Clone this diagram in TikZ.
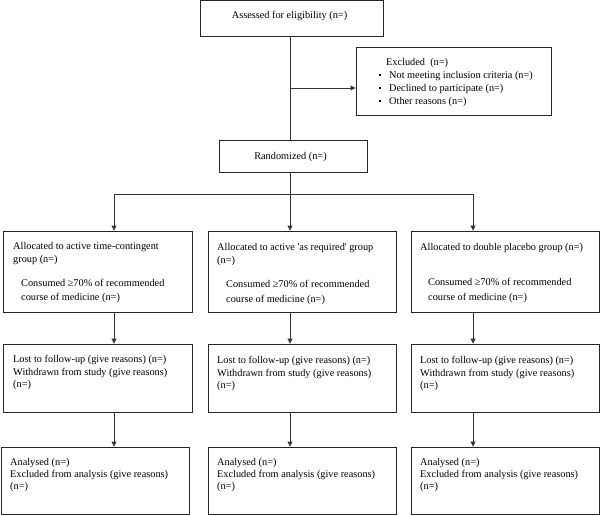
\documentclass[tikz,border=0pt]{standalone}
\usepackage{fontspec}
\setmainfont{Liberation Serif}
\usetikzlibrary{arrows.meta,fit}
\newcommand\bulsq{\makebox[10.5pt][l]{\rule[2.3pt]{2pt}{2pt}}}
\begin{document}
\begin{tikzpicture}[x=1pt,y=-1pt,
  box/.style={draw=black!85,line width=0.9pt,inner sep=0pt},
  con/.style={draw=black!80,line width=0.9pt},
  arr/.style={con,-{Triangle[length=5pt,width=5pt]}},
  txt/.style={anchor=base west,inner sep=0pt,align=left,font=\fontsize{10.3}{#1}\selectfont},
  txt/.default=12.5]
\useasboundingbox (0,0) rectangle (600,515);
% boxes
\node[box,fit={(200,0.5) (383,36)}] (top) {};
\node[box,fit={(356,47) (551,115)}] (excl) {};
\node[box,fit={(219,140) (367,172)}] (rand) {};
\node[box,fit={(3,231) (192,312)}] (a1) {};
\node[box,fit={(208,231) (396,312)}] (a2) {};
\node[box,fit={(411,231) (599,312)}] (a3) {};
\node[box,fit={(3,344) (192,412)}] (f1) {};
\node[box,fit={(208,344) (396,412)}] (f2) {};
\node[box,fit={(411,344) (599,412)}] (f3) {};
\node[box,fit={(1,447) (189,514)}] (n1) {};
\node[box,fit={(208,447) (396,514)}] (n2) {};
\node[box,fit={(411,447) (599,514)}] (n3) {};
% texts (multi-line nodes: base = last line's baseline)
\node[txt,anchor=base] (ttop) at (289.5,18.5) {Assessed for eligibility (n=)};
\node[txt,anchor=base] (trand) at (290.5,159.5) {Randomized (n=)};
\node[txt] (texh) at (386,65.5) {Excluded\ \ (n=)};
\node[txt=13] (texl) at (378.5,104.5) {\bulsq Not meeting inclusion criteria (n=)\\\bulsq Declined to participate (n=)\\\bulsq Other reasons (n=)};
\node[txt=13.5] (ta1) at (13,262.5) {Allocated to active time-contingent\\group (n=)};
\node[txt=14] (tc1) at (21,300.5) {Consumed ≥70\% of recommended\\course of medicine (n=)};
\node[txt=12.5] (ta2) at (217,263) {Allocated to active \textquotesingle as required\textquotesingle\ group\\(n=)};
\node[txt=14.5] (tc2) at (226,302) {Consumed ≥70\% of recommended\\course of medicine (n=)};
\node[txt] (ta3) at (420,250.5) {Allocated to double placebo group (n=)};
\node[txt=14.5] (tc3) at (428,300) {Consumed ≥70\% of recommended\\course of medicine (n=)};
\node[txt=12.5] (tf1) at (13,387.5) {Lost to follow-up (give reasons) (n=)\\Withdrawn from study (give reasons)\\(n=)};
\node[txt=12.5] (tf2) at (217,388.5) {Lost to follow-up (give reasons) (n=)\\Withdrawn from study (give reasons)\\(n=)};
\node[txt=12.5] (tf3) at (420,388.5) {Lost to follow-up (give reasons) (n=)\\Withdrawn from study (give reasons)\\(n=)};
\node[txt=12] (tn1) at (10,489.5) {Analysed (n=)\\Excluded from analysis (give reasons)\\(n=)};
\node[txt=12] (tn2) at (217,489.5) {Analysed (n=)\\Excluded from analysis (give reasons)\\(n=)};
\node[txt=12] (tn3) at (420,489.5) {Analysed (n=)\\Excluded from analysis (give reasons)\\(n=)};
% connectors
\coordinate (mid) at (290,88);
\coordinate (split) at (290,194);
\coordinate (c1) at (114,194);
\coordinate (c3) at (473,194);
\draw[con] (top.south -| mid) -- (rand.north -| mid);
\draw[arr] (mid) -- (excl.west |- mid);
\draw[con] (rand.south -| split) -- (split);
\draw[con] (c1) -- (c3);
\draw[arr] (c1) -- (a1.north -| c1);
\draw[arr] (split) -- (a2.north -| split);
\draw[arr] (c3) -- (a3.north -| c3);
\draw[arr] (a1.south -| c1) -- (f1.north -| c1);
\draw[arr] (a2.south -| split) -- (f2.north -| split);
\draw[arr] (a3.south -| c3) -- (f3.north -| c3);
\draw[arr] (f1.south -| c1) -- (n1.north -| c1);
\draw[arr] (f2.south -| split) -- (n2.north -| split);
\draw[arr] (f3.south -| c3) -- (n3.north -| c3);
\end{tikzpicture}
\end{document}
